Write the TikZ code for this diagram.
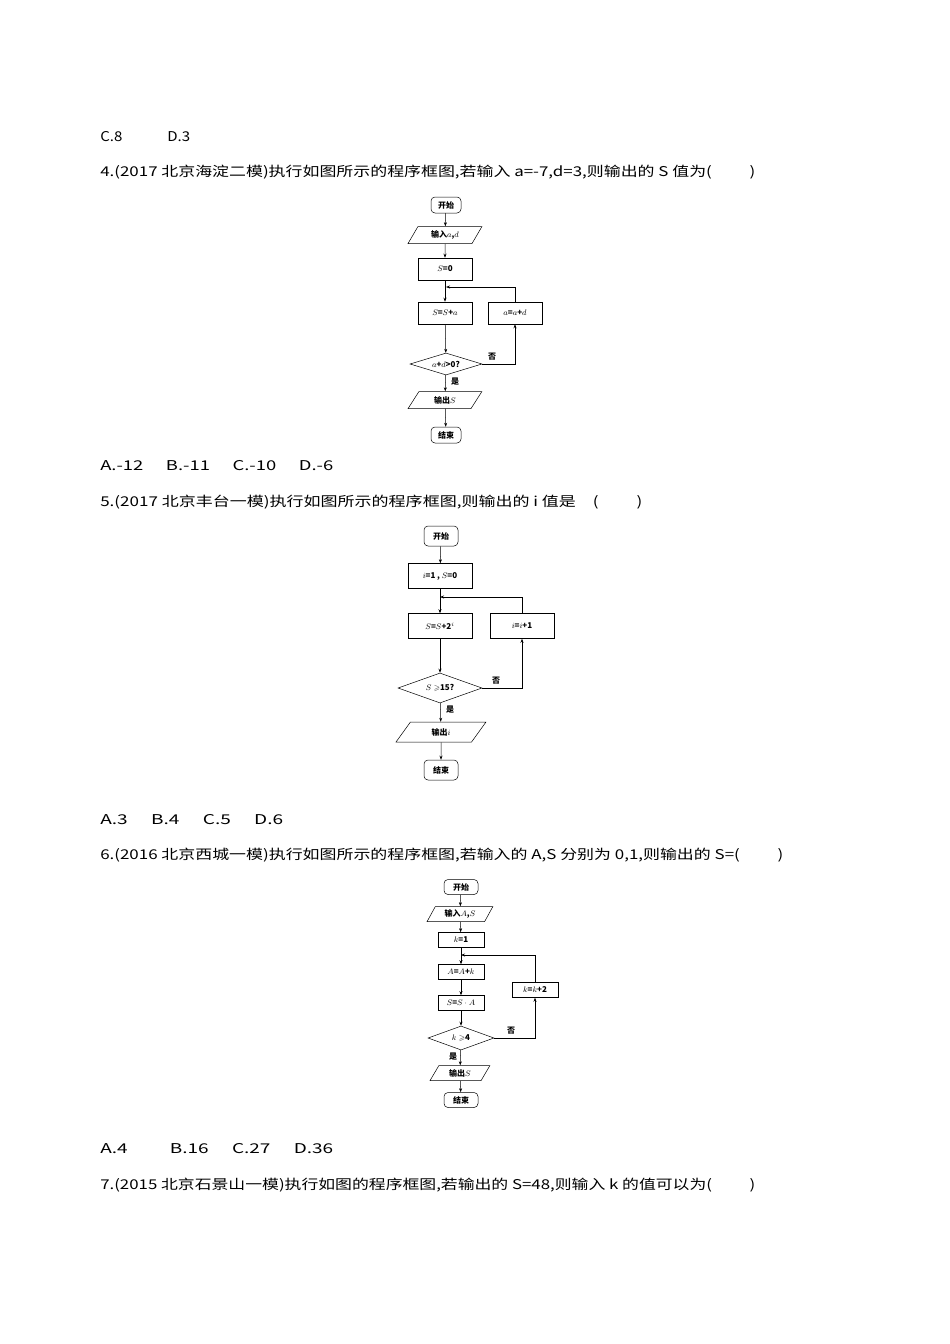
\documentclass[tikz,border=0pt]{standalone}
\usepackage{fontspec}
\usepackage{amssymb}
\usepackage{graphicx}
\setmainfont{Noto Sans CJK SC}
\usetikzlibrary{shapes.geometric,arrows.meta}
\newcommand{\fitline}[2]{\resizebox{#1}{\height}{#2}}
\begin{document}
\begin{tikzpicture}[x=1pt,y=-1pt,
 txt/.style={anchor=west,inner sep=0,font=\fontsize{13.5}{13.5}\selectfont},
 fc/.style={font=\fontsize{8}{8}\selectfont\bfseries,inner sep=1pt},
 term/.style={fc,draw,rounded corners=4pt,minimum width=30,minimum height=16},
 proc/.style={fc,draw,minimum width=54,minimum height=22},
 io/.style={fc,draw,trapezium,trapezium left angle=63,trapezium right angle=117,minimum width=74,minimum height=17,trapezium stretches=true},
 dec/.style={fc,draw,diamond,inner sep=0},
 lbl/.style={font=\fontsize{8}{8}\selectfont\bfseries,inner sep=0},
 ar/.style={-{Stealth[length=4pt,width=3pt]},line width=0.5pt},
 every node/.append style={line width=0.5pt}]
\useasboundingbox (0,0) rectangle (950,1344);
\node[txt] (t0) at (100,137) {\fitline{90pt}{C.8\qquad\quad D.3}};
\node[txt] (q4) at (100,172) {\fitline{655pt}{4.(2017 北京海淀二模)执行如图所示的程序框图,若输入 a=-7,d=3,则输出的 S 值为(\qquad\ )}};
% chart 1
\node[term] (a1) at (446,205) {开始};
\node[io] (a2) at (445,235) {输入$a$,$d$};
\node[proc] (a3) at (445,269) {$S$=0};
\node[proc] (a4) at (445,313) {$S$=$S$+$a$};
\node[proc] (a5) at (515,313) {$a$=$a$+$d$};
\node[dec,minimum width=72,minimum height=22,aspect=3.3] (a6) at (446,364) {$a$+$d$>0?};
\node[io] (a7) at (445,400) {输出$S$};
\node[term] (a8) at (446,435) {结束};
\coordinate (j1) at (446,287);
\draw[ar] (a1)--(a2); \draw[ar] (a2)--(a3); \draw[ar] (a3)--(a4); \draw[ar] (a4)--(a6); \draw[ar] (a6)--(a7); \draw[ar] (a7)--(a8);
\draw[ar] (a6.east)-|(a5.south); \draw[ar] (a5.north)|-(j1);
\node[lbl] (a9) at (492,357) {否}; \node[lbl] (a10) at (455,382) {是};
\node[txt] (ans4) at (100,466) {\fitline{233pt}{A.-12\quad\ B.-11\quad\ C.-10\quad\ D.-6}};
\node[txt] (q5) at (100,502) {\fitline{542pt}{5.(2017 北京丰台一模)执行如图所示的程序框图,则输出的 i 值是\quad(\qquad\ )}};
% chart 2
\node[term,minimum width=34,minimum height=20] (b1) at (441,536) {开始};
\node[proc,minimum width=64,minimum height=25] (b2) at (440,576) {$i$=1 , $S$=0};
\node[proc,minimum width=64,minimum height=25] (b3) at (440,626) {$S$=$S$+2$^i$};
\node[proc,minimum width=64,minimum height=25] (b4) at (522,626) {$i$=$i$+1};
\node[dec,minimum width=84,minimum height=30,aspect=2.8] (b5) at (440,688) {$S\geqslant$15?};
\node[io,minimum width=90,minimum height=20] (b6) at (441,732) {输出$i$};
\node[term,minimum width=34,minimum height=20] (b7) at (441,770) {结束};
\coordinate (j2) at (440,597);
\draw[ar] (b1)--(b2); \draw[ar] (b2)--(b3); \draw[ar] (b3)--(b5); \draw[ar] (b5)--(b6); \draw[ar] (b6)--(b7);
\draw[ar] (b5.east)-|(b4.south); \draw[ar] (b4.north)|-(j2);
\node[lbl] (b8) at (496,681) {否}; \node[lbl] (b9) at (450,710) {是};
\node[txt] (ans5) at (100,820) {\fitline{183pt}{A.3\quad\ B.4\quad\ C.5\quad\ D.6}};
\node[txt] (q6) at (100,855) {\fitline{683pt}{6.(2016 北京西城一模)执行如图所示的程序框图,若输入的 A,S 分别为 0,1,则输出的 S=(\qquad\ )}};
% chart 3
\node[term,minimum width=34,minimum height=15] (c1) at (461,887) {开始};
\node[io,minimum width=66,minimum height=15] (c2) at (460,914) {输入$A$,$S$};
\node[proc,minimum width=46,minimum height=15] (c3) at (461,940) {$k$=1};
\node[proc,minimum width=46,minimum height=15] (c4) at (461,972) {$A$=$A$+$k$};
\node[proc,minimum width=46,minimum height=15] (c5) at (461,1003) {$S$=$S$ $\cdot$ $A$};
\node[proc,minimum width=46,minimum height=15] (c6) at (535,990) {$k$=$k$+2};
\node[dec,minimum width=66,minimum height=24,aspect=2.75] (c7) at (461,1038) {$k\geqslant$4};
\node[io,minimum width=60,minimum height=15] (c8) at (460,1073) {输出$S$};
\node[term,minimum width=34,minimum height=15] (c9) at (461,1100) {结束};
\coordinate (j3) at (461,955);
\draw[ar] (c1)--(c2); \draw[ar] (c2)--(c3); \draw[ar] (c3)--(c4); \draw[ar] (c4)--(c5); \draw[ar] (c5)--(c7); \draw[ar] (c7)--(c8); \draw[ar] (c8)--(c9);
\draw[ar] (c7.east)-|(c6.south); \draw[ar] (c6.north)|-(j3);
\node[lbl] (c10) at (511,1031) {否}; \node[lbl] (c11) at (453,1057) {是};
\node[txt] (ans6) at (100,1149) {\fitline{233pt}{A.4\qquad\ B.16\quad\ C.27\quad\ D.36}};
\node[txt] (q7) at (100,1185) {\fitline{655pt}{7.(2015 北京石景山一模)执行如图的程序框图,若输出的 S=48,则输入 k 的值可以为(\qquad\ )}};
\end{tikzpicture}
\end{document}
